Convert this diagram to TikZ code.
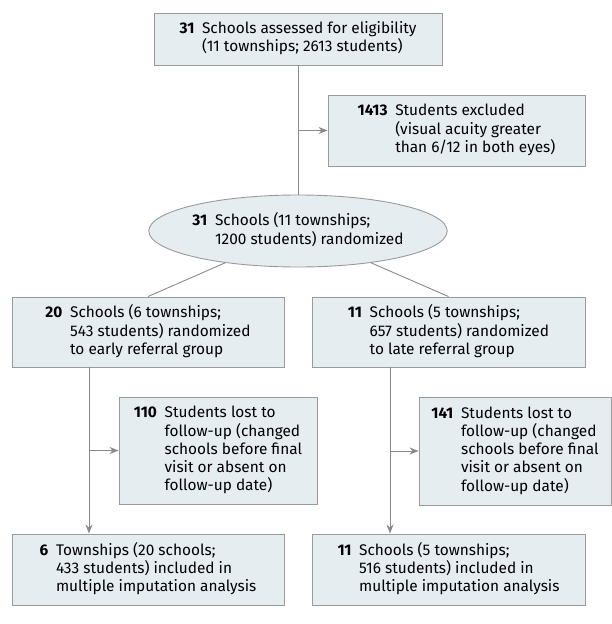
\documentclass[tikz,border=0pt]{standalone}
\usepackage{fontspec}
\setmainfont{Fira Sans}
\usetikzlibrary{shapes.geometric, arrows.meta}

% number in bold, text hanging after it
\newcommand{\flowtext}[2]{%
  \begin{tabular}{@{}r@{\hspace{0.5em}}l@{}}\textbf{#1} & #2\end{tabular}}

\begin{document}
\begin{tikzpicture}[x=1pt, y=-1pt,
    box/.style={rectangle, draw=boxline, fill=boxfill, line width=0.9pt,
      inner sep=0pt, font=\fontsize{15.4}{18}\selectfont},
    oval/.style={ellipse, draw=boxline, fill=boxfill, line width=0.9pt,
      inner sep=0pt, font=\fontsize{15.4}{18}\selectfont},
    flow/.style={draw=arrowline, line width=0.9pt},
    flowarrow/.style={flow, -{Stealth[length=9pt, width=7pt]}}]
    \definecolor{boxfill}{HTML}{E5EDF1}
    \definecolor{boxline}{HTML}{9A9A9A}
    \definecolor{arrowline}{HTML}{8A8A8A}
    \useasboundingbox (0,0) rectangle (612,624);

    % Draw nodes
    \node[box, minimum width=288pt, minimum height=52pt] (assessed) at (298,39)
      {\flowtext{31}{Schools assessed for eligibility\\ & (11 townships; 2613 students)}};
    \node[box, minimum width=257pt, minimum height=71pt] (excluded) at (456.5,130.5)
      {\flowtext{1413}{Students excluded\\ & (visual acuity greater\\ & than 6/12 in both eyes)}};
    \node[oval, minimum width=288pt, minimum height=72pt] (randomized) at (298,231)
      {\flowtext{31}{Schools (11 townships;\\ & 1200 students) randomized}};

    \node[box, minimum width=272pt, minimum height=70pt] (early) at (148,332)
      {\flowtext{20}{Schools (6 townships;\\ & 543 students) randomized\\ & to early referral group}};
    \node[box, minimum width=273pt, minimum height=70pt] (late) at (448.5,332)
      {\flowtext{11}{Schools (5 townships;\\ & 657 students) randomized\\ & to late referral group}};

    \node[box, minimum width=198pt, minimum height=107pt] (lostearly) at (218,450.5)
      {\flowtext{110}{Students lost to\\ & follow-up (changed\\ & schools before final\\ & visit or absent on\\ & follow-up date)}};
    \node[box, minimum width=192pt, minimum height=108pt] (lostlate) at (515,451)
      {\flowtext{141}{Students lost to\\ & follow-up (changed\\ & schools before final\\ & visit or absent on\\ & follow-up date)}};

    \node[box, minimum width=272pt, minimum height=71pt] (analysisearly) at (148,569.5)
      {\flowtext{6}{Townships (20 schools;\\ & 433 students) included in\\ & multiple imputation analysis}};
    \node[box, minimum width=273pt, minimum height=71pt] (analysislate) at (448.5,569.5)
      {\flowtext{11}{Schools (5 townships;\\ & 516 students) included in\\ & multiple imputation analysis}};

    % Draw connections
    \draw[flow] (assessed) -- (randomized);
    \draw[flowarrow] (assessed.south |- excluded.west) -- (excluded.west);
    \draw[flow] (randomized) -- (early.north);
    \draw[flow] (randomized) -- (late.north);

    \draw[flowarrow] (early.south -| 89,0) -- (analysisearly.north -| 89,0);
    \draw[flowarrow] (89,0 |- lostearly.west) -- (lostearly.west);
    \draw[flowarrow] (late.south -| 390,0) -- (analysislate.north -| 390,0);
    \draw[flowarrow] (390,0 |- lostlate.west) -- (lostlate.west);
\end{tikzpicture}
\end{document}
